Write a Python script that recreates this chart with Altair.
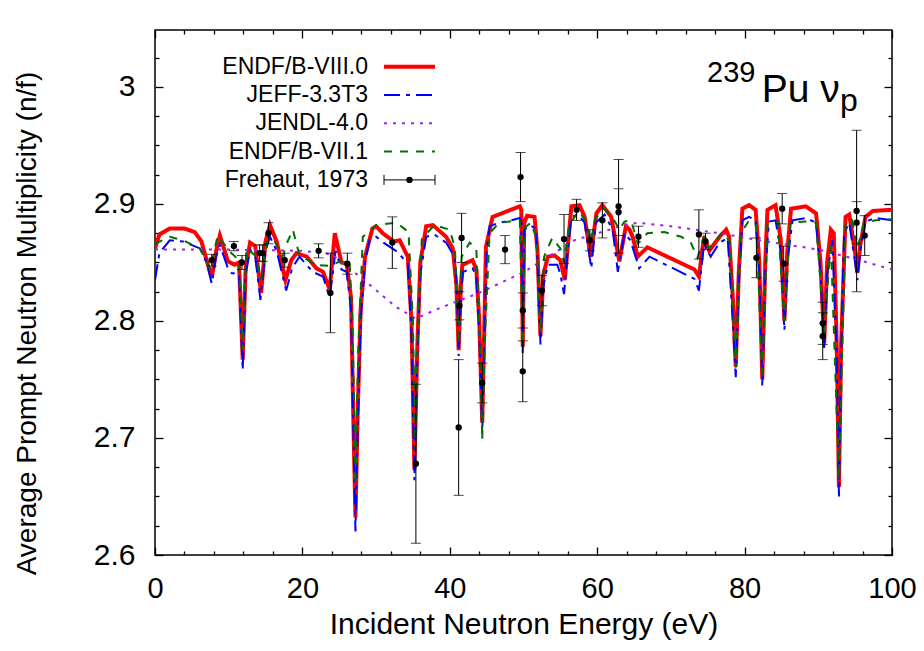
import altair as alt
import pandas as pd

FONT = "Liberation Sans"

# ---------------- data ----------------
endf8 = [(0, 2.862), (0.6, 2.874), (2.0, 2.879), (4.0, 2.879), (5.4, 2.876), (6.3, 2.868), (7.0, 2.852),
         (7.7, 2.837), (8.3, 2.860), (8.8, 2.873), (9.9, 2.851), (10.8, 2.848), (11.4, 2.850), (11.9, 2.767),
         (12.3, 2.845), (12.9, 2.867), (13.6, 2.864), (14.4, 2.824), (15.0, 2.868), (15.6, 2.882), (16.5, 2.868),
         (17.7, 2.835), (18.5, 2.852), (19.2, 2.858), (20.6, 2.855), (21.9, 2.845), (22.8, 2.842), (23.7, 2.827),
         (24.4, 2.875), (25.3, 2.850), (26.0, 2.849), (26.6, 2.820), (26.9, 2.720), (27.2, 2.632), (27.5, 2.720),
         (27.9, 2.810), (28.5, 2.855), (29.5, 2.879), (30.0, 2.881), (30.9, 2.875), (32.4, 2.868), (33.2, 2.869),
         (34.3, 2.855), (34.8, 2.800), (35.2, 2.673), (35.6, 2.780), (36.0, 2.850), (36.8, 2.881), (37.7, 2.882),
         (39.5, 2.872), (40.4, 2.862), (40.9, 2.830), (41.2, 2.775), (41.5, 2.830), (41.7, 2.848), (43.1, 2.852),
         (43.6, 2.844), (44.0, 2.800), (44.4, 2.713), (44.7, 2.800), (44.9, 2.863), (45.8, 2.889), (49.5, 2.898),
         (49.7, 2.895), (49.9, 2.778), (50.1, 2.884), (50.5, 2.890), (51.5, 2.889), (51.9, 2.860), (52.3, 2.787),
         (52.7, 2.840), (53.3, 2.855), (54.2, 2.856), (55.0, 2.852), (55.6, 2.835), (56.5, 2.898), (57.6, 2.899),
         (58.3, 2.889), (59.1, 2.855), (59.9, 2.892), (60.7, 2.899), (61.9, 2.889), (63.0, 2.851), (63.9, 2.881),
         (64.4, 2.878), (64.8, 2.872), (65.5, 2.855), (66.8, 2.863), (73.2, 2.844), (73.8, 2.838), (74.5, 2.872),
         (75.2, 2.860), (76.6, 2.872), (77.5, 2.878), (77.9, 2.872), (78.4, 2.820), (78.8, 2.761), (79.2, 2.840),
         (79.7, 2.896), (80.6, 2.899), (81.5, 2.895), (82.0, 2.850), (82.4, 2.750), (82.8, 2.850), (83.1, 2.895),
         (84.2, 2.899), (84.9, 2.870), (85.4, 2.800), (85.8, 2.860), (86.3, 2.896), (88.3, 2.898), (89.7, 2.892),
         (90.3, 2.850), (90.8, 2.781), (91.2, 2.850), (91.7, 2.878), (92.1, 2.875), (92.5, 2.780), (92.8, 2.658),
         (93.1, 2.780), (93.7, 2.889), (94.2, 2.891), (95.0, 2.858), (95.3, 2.841), (95.7, 2.865), (96.4, 2.889),
         (97.4, 2.894), (100, 2.895)]

jeff33 = [(0, 2.835), (0.6, 2.858), (2.0, 2.869), (3.8, 2.868), (6.1, 2.862), (7.0, 2.850), (7.7, 2.832),
          (8.3, 2.855), (8.8, 2.865), (9.9, 2.845), (10.4, 2.841), (11.4, 2.840), (11.9, 2.758), (12.3, 2.840),
          (12.9, 2.861), (13.6, 2.855), (14.3, 2.818), (15.0, 2.860), (15.6, 2.872), (16.5, 2.860), (17.8, 2.826),
          (18.6, 2.845), (19.6, 2.855), (21.4, 2.842), (22.8, 2.838), (23.7, 2.820), (24.5, 2.860), (25.3, 2.844),
          (26.0, 2.842), (26.6, 2.810), (26.9, 2.710), (27.2, 2.620), (27.5, 2.710), (27.9, 2.800), (28.5, 2.850),
          (29.1, 2.869), (30.0, 2.872), (31.0, 2.867), (32.9, 2.859), (34.3, 2.849), (34.8, 2.790), (35.2, 2.664),
          (35.6, 2.770), (36.0, 2.840), (36.8, 2.872), (37.9, 2.874), (39.5, 2.867), (40.7, 2.854), (41.0, 2.820),
          (41.2, 2.770), (41.5, 2.820), (41.8, 2.842), (43.1, 2.845), (43.6, 2.838), (44.0, 2.790), (44.4, 2.705),
          (44.7, 2.790), (45.0, 2.860), (45.4, 2.881), (46.7, 2.884), (48.3, 2.886), (49.5, 2.888), (49.7, 2.885),
          (49.9, 2.772), (50.1, 2.878), (50.8, 2.882), (51.7, 2.879), (51.9, 2.850), (52.3, 2.780), (52.7, 2.830),
          (53.3, 2.848), (54.6, 2.848), (55.0, 2.840), (55.5, 2.823), (56.0, 2.860), (56.5, 2.889), (57.4, 2.891),
          (58.3, 2.884), (59.2, 2.845), (59.8, 2.884), (61.0, 2.891), (62.1, 2.878), (62.8, 2.842), (63.7, 2.875),
          (64.5, 2.869), (65.7, 2.845), (67.1, 2.855), (73.2, 2.836), (73.8, 2.826), (74.5, 2.866), (75.4, 2.855),
          (76.6, 2.867), (77.7, 2.871), (78.3, 2.810), (78.8, 2.752), (79.2, 2.830), (79.7, 2.886), (80.6, 2.889),
          (81.5, 2.886), (82.0, 2.840), (82.4, 2.744), (82.8, 2.840), (83.3, 2.885), (84.2, 2.886), (84.9, 2.860),
          (85.4, 2.792), (85.8, 2.850), (86.5, 2.886), (88.3, 2.888), (89.7, 2.884), (90.3, 2.840), (90.8, 2.775),
          (91.2, 2.840), (91.9, 2.869), (92.5, 2.770), (92.8, 2.650), (93.1, 2.770), (93.5, 2.875), (94.2, 2.884),
          (95.0, 2.850), (95.3, 2.835), (95.7, 2.860), (96.4, 2.885), (97.8, 2.888), (100, 2.886)]

jendl40 = [(0, 2.861), (10, 2.861), (20, 2.860), (24, 2.857), (26.4, 2.845), (29.5, 2.829), (32.7, 2.812),
           (35.4, 2.802), (38.6, 2.811), (44.0, 2.824), (50.1, 2.842), (56.9, 2.869), (63.7, 2.882),
           (65.5, 2.884), (70.0, 2.881), (76.6, 2.875), (82.9, 2.868), (90.1, 2.861), (95.0, 2.853), (100, 2.844)]

endf71 = [(0, 2.866), (2.0, 2.872), (3.8, 2.869), (6.1, 2.862), (7.5, 2.844), (8.5, 2.873), (10.2, 2.859),
          (11.4, 2.852), (11.9, 2.775), (12.4, 2.862), (13.6, 2.856), (14.4, 2.835), (15.4, 2.878), (16.5, 2.865),
          (17.3, 2.855), (18.0, 2.868), (18.7, 2.878), (19.6, 2.856), (21.9, 2.848), (23.7, 2.847), (25.1, 2.851),
          (26.4, 2.850), (26.8, 2.800), (27.2, 2.660), (27.6, 2.780), (28.2, 2.872), (30.0, 2.882), (32.8, 2.884),
          (34.4, 2.876), (35.0, 2.800), (35.3, 2.690), (35.7, 2.800), (36.2, 2.870), (37.9, 2.882), (40.0, 2.878),
          (40.7, 2.862), (41.2, 2.780), (41.6, 2.855), (42.7, 2.867), (43.6, 2.862), (44.1, 2.780), (44.4, 2.698),
          (44.8, 2.790), (45.4, 2.875), (46.7, 2.884), (49.5, 2.886), (49.9, 2.780), (50.2, 2.880), (51.0, 2.884),
          (51.8, 2.870), (52.3, 2.790), (52.8, 2.855), (53.9, 2.871), (55.0, 2.862), (55.5, 2.850), (56.2, 2.882),
          (57.5, 2.894), (58.5, 2.885), (59.1, 2.868), (59.8, 2.888), (61.0, 2.896), (62.4, 2.885), (63.0, 2.878),
          (63.7, 2.885), (64.6, 2.886), (65.5, 2.866), (66.8, 2.875), (69.1, 2.876), (71.4, 2.872), (72.7, 2.867),
          (73.6, 2.854), (74.5, 2.872), (75.2, 2.862), (77.0, 2.876), (78.0, 2.868), (78.8, 2.760), (79.5, 2.875),
          (80.6, 2.886), (81.6, 2.882), (82.4, 2.750), (83.1, 2.882), (84.5, 2.885), (85.4, 2.800), (86.2, 2.884),
          (88.3, 2.885), (89.7, 2.884), (90.8, 2.790), (91.7, 2.868), (92.8, 2.665), (93.7, 2.884), (94.6, 2.886),
          (95.3, 2.862), (96.2, 2.884), (97.8, 2.886), (100, 2.887)]

fre_E = [7.7, 10.7, 11.8, 14.2, 14.6, 15.4, 17.6, 22.2, 23.8, 26.1, 32.2, 35.4, 41.2, 41.3, 41.6, 44.4,
         47.5, 49.6, 49.9, 49.9, 52.5, 55.5, 57.2, 59.0, 60.7, 62.9, 62.9, 65.6, 73.8, 74.7, 81.6, 85.1,
         85.3, 90.6, 90.6, 95.2, 95.2, 96.3]
fre_v = [2.852, 2.864, 2.850, 2.858, 2.858, 2.875, 2.852, 2.860, 2.824, 2.849, 2.867, 2.678, 2.709, 2.813,
         2.871, 2.747, 2.861, 2.923, 2.809, 2.757, 2.826, 2.870, 2.895, 2.869, 2.886, 2.898, 2.893, 2.872,
         2.874, 2.868, 2.854, 2.896, 2.849, 2.798, 2.787, 2.894, 2.884, 2.873]
fre_err = [0.005, 0.004, 0.006, 0.007, 0.007, 0.009, 0.006, 0.006, 0.034, 0.009, 0.022, 0.068, 0.058, 0.012,
           0.021, 0.017, 0.012, 0.021, 0.015, 0.026, 0.013, 0.021, 0.009, 0.009, 0.015, 0.040, 0.020, 0.009,
           0.021, 0.007, 0.017, 0.013, 0.015, 0.018, 0.020, 0.069, 0.018, 0.017]

series_names = ["ENDF/B-VIII.0", "JEFF-3.3T3", "JENDL-4.0", "ENDF/B-VII.1", "Frehaut, 1973"]
x_major = [0, 20, 40, 60, 80, 100]
x_minor = [4, 8, 12, 16, 24, 28, 32, 36, 44, 48, 52, 56, 64, 68, 72, 76, 84, 88, 92, 96]
y_major = [2.6, 2.7, 2.8, 2.9, 3.0]
y_minor = [2.625, 2.65, 2.675, 2.725, 2.75, 2.775, 2.825, 2.85, 2.875, 2.925, 2.95, 2.975, 3.025]

# ---------------- chart ----------------
W, H = 737, 525
xs = alt.Scale(domain=[0, 100], nice=False, zero=False)
ys = alt.Scale(domain=[2.6, 3.0487], nice=False, zero=False)

fre_df = pd.DataFrame({"E": fre_E, "v": fre_v, "err": fre_err})
fre_df["lo"] = fre_df["v"] - fre_df["err"]
fre_df["hi"] = fre_df["v"] + fre_df["err"]

common_axis = dict(domain=False, grid=False, tickColor="black", tickWidth=1.3,
                   labelFont=FONT, labelColor="black", titleFont=FONT, titleColor="black",
                   titleFontWeight="normal")


def axis_layer(xaxis, yaxis):
    return alt.Chart(fre_df).mark_point(opacity=0).encode(
        x=alt.X("E:Q", scale=xs, axis=xaxis),
        y=alt.Y("v:Q", scale=ys, axis=yaxis),
    )


ax_main = axis_layer(
    alt.Axis(orient="bottom", values=x_major, offset=-8, tickSize=8, labelFontSize=29,
             labelPadding=42, labelBaseline="alphabetic", labelFlush=False, labelOverlap=False,
             title="Incident Neutron Energy (eV)", titleFontSize=30, titleX=W / 2, titleY=86,
             titleBaseline="alphabetic", titleAlign="center", **common_axis),
    alt.Axis(orient="left", values=y_major, offset=-8, tickSize=8, format="~g", labelFontSize=30,
             labelPadding=20, labelBaseline="middle", labelFlush=False, labelOverlap=False,
             title="Average Prompt Neutron Multiplicity (n/f)", titleFontSize=28, titleAngle=270,
             titleX=-128, titleY=293, titleBaseline="alphabetic", titleAlign="center", **common_axis),
)
ax_minor = axis_layer(
    alt.Axis(orient="bottom", values=x_minor, offset=-4, tickSize=4, labels=False, title="", **common_axis),
    alt.Axis(orient="left", values=y_minor, offset=-4, tickSize=4, labels=False, title="", **common_axis),
)
ax_top = axis_layer(
    alt.Axis(orient="top", values=x_major, offset=-8, tickSize=8, labels=False, title="", **common_axis),
    alt.Axis(orient="right", values=y_major, offset=-8, tickSize=8, labels=False, title="", **common_axis),
)
ax_top_minor = axis_layer(
    alt.Axis(orient="top", values=x_minor, offset=-4, tickSize=4, labels=False, title="", **common_axis),
    alt.Axis(orient="right", values=y_minor, offset=-4, tickSize=4, labels=False, title="", **common_axis),
)


def curve(pairs, color, width, dash=None):
    df = pd.DataFrame(pairs, columns=["E", "v"])
    kw = dict(color=color, strokeWidth=width, clip=True)
    if dash:
        kw["strokeDash"] = dash
    return alt.Chart(df).mark_line(**kw).encode(
        x=alt.X("E:Q", scale=xs, axis=None),
        y=alt.Y("v:Q", scale=ys, axis=None),
        order=alt.Order("E:Q"),
    )


styles = [
    ("#ff0000", 4, None),
    ("#0000ff", 2, [16, 6, 4, 6]),
    ("#a020f0", 2, [3, 6]),
    ("#007000", 2, [8, 8]),
]
curves = [curve(d, *s) for d, s in zip([endf8, jeff33, jendl40, endf71], styles)]

err_rule = alt.Chart(fre_df).mark_rule(color="black", strokeWidth=1).encode(
    x=alt.X("E:Q", scale=xs, axis=None),
    y=alt.Y("lo:Q", scale=ys, axis=None),
    y2="hi:Q",
)
cap_lo = alt.Chart(fre_df).mark_tick(orient="horizontal", size=10, thickness=1, color="black").encode(
    x=alt.X("E:Q", scale=xs, axis=None), y=alt.Y("lo:Q", scale=ys, axis=None))
cap_hi = alt.Chart(fre_df).mark_tick(orient="horizontal", size=10, thickness=1, color="black").encode(
    x=alt.X("E:Q", scale=xs, axis=None), y=alt.Y("hi:Q", scale=ys, axis=None))
pts = alt.Chart(fre_df).mark_circle(size=40, color="black", opacity=1).encode(
    x=alt.X("E:Q", scale=xs, axis=None), y=alt.Y("v:Q", scale=ys, axis=None))

# ---------------- legend (gnuplot style: label then sample) ----------------
LX_TEXT, LX0, LX1, LY0, LDY = 213, 229, 280, 36.7, 28.3
legend_layers = []
one = pd.DataFrame({"k": [0]})
for i, name in enumerate(series_names):
    ly = LY0 + LDY * i
    legend_layers.append(
        alt.Chart(pd.DataFrame({"t": [name]})).mark_text(
            align="right", baseline="middle", font=FONT, fontSize=23, color="black"
        ).encode(text="t:N", x=alt.value(LX_TEXT), y=alt.value(ly))
    )
    if i < 4:
        color, width, dash = styles[i]
        kw = dict(color=color, strokeWidth=width)
        if dash:
            kw["strokeDash"] = dash
        legend_layers.append(
            alt.Chart(one).mark_rule(**kw).encode(x=alt.value(LX0), x2=alt.value(LX1), y=alt.value(ly))
        )
    else:
        legend_layers.append(alt.Chart(one).mark_rule(color="black", strokeWidth=1).encode(
            x=alt.value(LX0), x2=alt.value(LX1), y=alt.value(ly)))
        for cx in (LX0, LX1):
            legend_layers.append(alt.Chart(one).mark_rule(color="black", strokeWidth=1).encode(
                x=alt.value(cx), y=alt.value(ly - 5), y2=alt.value(ly + 5)))
        legend_layers.append(alt.Chart(one).mark_circle(size=40, color="black", opacity=1).encode(
            x=alt.value((LX0 + LX1) / 2), y=alt.value(ly)))

# ---------------- nuclide label ----------------
lab_239 = alt.Chart(pd.DataFrame({"t": ["239"]})).mark_text(
    align="left", baseline="alphabetic", font=FONT, fontSize=29, color="black"
).encode(text="t:N", x=alt.value(552), y=alt.value(51.7))
lab_pu = alt.Chart(pd.DataFrame({"t": ["Pu \u03bd"]})).mark_text(
    align="left", baseline="alphabetic", font=FONT, fontSize=39, color="black"
).encode(text="t:N", x=alt.value(606.7), y=alt.value(71.7))
lab_p = alt.Chart(pd.DataFrame({"t": ["p"]})).mark_text(
    align="left", baseline="alphabetic", font=FONT, fontSize=32, color="black"
).encode(text="t:N", x=alt.value(685), y=alt.value(81))

chart = alt.layer(
    ax_main, ax_minor, ax_top, ax_top_minor,
    *curves, err_rule, cap_lo, cap_hi, pts,
    *legend_layers, lab_239, lab_pu, lab_p,
).resolve_axis(
    x="independent", y="independent"
).properties(
    width=W, height=H,
    autosize=alt.AutoSizeParams(type="none"),
    padding={"left": 147, "top": 22, "right": 24, "bottom": 88},
).configure_view(
    stroke="black", strokeWidth=1.5
)

chart.save("out.html", embed_options={"renderer": "svg", "actions": False})
